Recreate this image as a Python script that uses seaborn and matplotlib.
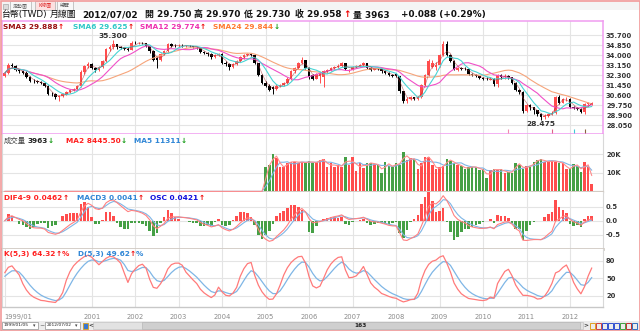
import numpy as np
import pandas as pd
import matplotlib
matplotlib.use("Agg")
import matplotlib.pyplot as plt
from matplotlib.patches import Rectangle
import seaborn as sns

# ---------------- monthly USD/TWD data, 1999/01 .. 2012/07 ----------------
opens = [
    32.20, 32.45, 33.15, 33.05, 32.70, 32.60, 32.50, 32.15, 31.80, 31.75, 31.70, 31.62,
    31.35, 30.70, 30.65, 30.40, 30.50, 30.70, 30.85, 31.00, 31.10, 31.35, 32.55, 33.05,
    33.25, 32.90, 32.70, 33.00, 33.50, 34.50, 34.70, 34.90, 34.65, 34.60, 34.55, 34.45,
    35.05, 35.00, 35.02, 34.98, 34.80, 34.30, 33.75, 33.55, 34.10, 34.30, 34.95, 34.80,
    34.75, 34.80, 34.75, 34.78, 34.75, 34.70, 34.65, 34.28, 34.15, 34.05, 33.80, 34.00,
    34.10, 33.35, 33.20, 33.00, 33.25, 33.50, 33.80, 34.00, 34.10, 34.00, 33.30, 32.30,
    31.65, 31.40, 31.30, 31.10, 31.40, 31.45, 31.60, 32.00, 32.60, 32.90, 33.30, 33.55,
    32.90, 32.30, 32.00, 32.20, 32.10, 32.60, 32.75, 32.90, 33.00, 33.10, 33.30, 32.65,
    32.75, 32.95, 33.05, 33.15, 33.30, 32.90, 32.75, 32.85, 32.80, 32.60, 32.50, 32.30,
    32.40, 32.20, 30.90, 30.05, 30.30, 30.40, 30.30, 30.40, 31.45, 32.30, 33.00, 33.00,
    33.15, 34.00, 34.95, 34.00, 33.50, 32.75, 32.90, 32.85, 32.80, 32.40, 32.30, 32.20,
    32.05, 32.00, 31.90, 32.00, 31.50, 32.30, 32.10, 32.20, 32.10, 31.65, 31.00, 30.85,
    29.25, 29.718, 29.55, 29.30, 29.00, 28.70, 28.85, 29.00, 29.05, 30.45, 29.96, 30.25,
    30.278, 29.55, 29.50, 29.45, 29.136, 29.81, 29.75,
]
highs = [
    32.55, 33.30, 33.35, 33.15, 32.85, 32.75, 32.60, 32.25, 31.95, 31.85, 31.80, 31.70,
    31.45, 30.85, 30.75, 30.60, 30.80, 30.95, 31.10, 31.20, 31.45, 32.70, 33.15, 33.40,
    33.35, 33.00, 33.10, 33.60, 34.60, 34.85, 35.30, 34.95, 34.75, 34.70, 34.65, 35.15,
    35.15, 35.10, 35.10, 35.05, 34.85, 34.40, 33.85, 34.20, 34.40, 35.05, 35.00, 34.90,
    34.90, 34.90, 34.88, 34.85, 34.80, 34.78, 34.70, 34.35, 34.25, 34.15, 34.10, 34.20,
    34.15, 33.45, 33.30, 33.35, 33.60, 33.90, 34.10, 34.20, 34.20, 34.05, 33.35, 32.40,
    31.80, 31.50, 31.35, 31.50, 31.55, 31.70, 32.10, 32.70, 33.00, 33.40, 33.80, 33.60,
    33.00, 32.40, 32.50, 32.55, 32.70, 32.85, 33.00, 33.10, 33.20, 33.40, 33.35, 32.85,
    33.10, 33.15, 33.25, 33.40, 33.35, 33.00, 32.90, 32.95, 32.85, 32.70, 32.55, 32.40,
    32.45, 32.25, 30.95, 30.45, 30.55, 30.45, 30.55, 31.55, 32.40, 33.65, 33.55, 33.40,
    34.10, 35.15, 35.22, 34.10, 33.60, 33.00, 33.00, 32.95, 32.85, 32.50, 32.40, 32.25,
    32.15, 32.10, 32.10, 32.05, 32.40, 32.40, 32.35, 32.30, 32.15, 31.70, 31.10, 30.90,
    29.85, 29.80, 29.60, 29.35, 29.05, 28.95, 29.10, 29.20, 30.55, 30.60, 30.35, 30.40,
    30.35, 29.65, 29.60, 29.50, 29.90, 30.00, 29.97,
]
lows = [
    32.10, 32.40, 32.90, 32.60, 32.50, 32.40, 32.05, 31.70, 31.65, 31.60, 31.55, 31.25,
    30.60, 30.55, 30.30, 30.05, 30.40, 30.60, 30.75, 30.90, 31.00, 31.30, 32.40, 32.90,
    32.80, 32.55, 32.60, 32.90, 33.40, 34.30, 34.55, 34.50, 34.50, 34.45, 34.35, 34.40,
    34.90, 34.90, 34.90, 34.70, 34.20, 33.50, 32.90, 33.50, 34.00, 34.20, 34.70, 34.65,
    34.65, 34.65, 34.68, 34.65, 34.60, 34.55, 34.20, 34.05, 33.95, 33.70, 33.75, 33.90,
    33.25, 33.10, 32.75, 32.90, 33.15, 33.40, 33.70, 33.90, 33.90, 33.20, 32.20, 31.55,
    31.30, 30.95, 30.70, 31.00, 31.30, 31.35, 31.50, 31.90, 32.50, 32.80, 33.20, 32.80,
    32.00, 31.90, 31.95, 31.60, 31.30, 32.50, 32.65, 32.80, 32.90, 33.00, 32.70, 32.55,
    32.70, 32.90, 32.95, 33.05, 32.80, 32.65, 32.70, 32.70, 32.50, 32.40, 32.20, 32.15,
    32.10, 30.80, 29.95, 29.95, 30.20, 30.20, 30.20, 30.35, 31.35, 32.20, 32.90, 32.75,
    33.00, 33.90, 33.90, 33.40, 32.70, 32.65, 32.75, 32.70, 32.30, 32.20, 32.10, 31.95,
    31.90, 31.85, 31.85, 31.40, 31.30, 32.00, 32.00, 32.00, 31.55, 30.90, 30.70, 29.10,
    29.15, 29.35, 29.00, 28.85, 28.475, 28.60, 28.75, 28.90, 29.00, 29.85, 29.90, 30.10,
    29.50, 29.40, 29.35, 29.05, 29.00, 29.70, 29.73,
]
closes = [
    32.45, 33.15, 33.05, 32.70, 32.60, 32.50, 32.15, 31.80, 31.75, 31.70, 31.62, 31.35,
    30.70, 30.65, 30.40, 30.50, 30.70, 30.85, 31.00, 31.10, 31.35, 32.55, 33.05, 33.25,
    32.90, 32.70, 33.00, 33.50, 34.50, 34.70, 34.90, 34.65, 34.60, 34.55, 34.45, 35.05,
    35.00, 35.02, 34.98, 34.80, 34.30, 33.60, 33.55, 34.10, 34.30, 34.95, 34.80, 34.75,
    34.80, 34.75, 34.78, 34.75, 34.70, 34.65, 34.28, 34.15, 34.05, 33.80, 34.00, 34.10,
    33.35, 33.20, 33.00, 33.25, 33.50, 33.80, 34.00, 34.10, 34.00, 33.30, 32.30, 31.65,
    31.40, 31.05, 31.10, 31.40, 31.45, 31.60, 32.00, 32.60, 32.90, 33.30, 33.55, 32.90,
    32.10, 32.00, 32.40, 32.45, 32.60, 32.75, 32.90, 33.00, 33.10, 33.30, 32.80, 32.75,
    33.00, 33.05, 33.15, 33.30, 32.90, 32.75, 32.80, 32.80, 32.60, 32.50, 32.30, 32.25,
    32.20, 30.90, 30.05, 30.30, 30.40, 30.30, 30.40, 31.45, 32.30, 33.45, 33.30, 33.15,
    34.00, 34.95, 34.00, 33.50, 32.80, 32.90, 32.85, 32.80, 32.40, 32.30, 32.20, 32.05,
    32.00, 31.95, 32.00, 31.50, 32.30, 32.10, 32.20, 32.10, 31.65, 31.00, 30.85, 29.25,
    29.718, 29.55, 29.30, 29.00, 28.70, 28.85, 29.00, 29.05, 30.45, 29.96, 30.25, 30.278,
    29.55, 29.50, 29.45, 29.136, 29.81, 29.896, 29.958,
]
# volume is reported from 2005/01 onwards (month index 72)
volume_start = 72
volumes = [
    13200, 14100, 20000, 17700, 12900, 13200, 15400, 15900, 15900, 15400, 15900, 15000,
    16400, 15000, 15900, 16800, 17100, 13200, 15000, 13200, 14100, 13200, 18200, 14100,
    18200, 11100, 15400, 12300, 15400, 15000, 14700, 14100, 10000, 15900, 13600, 13200,
    15400, 14100, 21200, 16800, 17700, 17100, 11800, 15400, 18600, 18200, 14100, 11800,
    12900, 13600, 17100, 16400, 15000, 14100, 13600, 11800, 13200, 12900, 13200, 11500,
    11800, 7000, 11500, 11800, 11500, 11800, 10000, 10600, 10000, 15400, 14100, 11800,
    13600, 13200, 15900, 16800, 17100, 15900, 15900, 16400, 15900, 15400, 15000, 11800,
    12300, 14700, 13600, 10600, 15464, 12928, 3963,
]
price_ticks = [35.70, 34.85, 34.00, 33.15, 32.30, 31.45, 30.60, 29.75, 28.90, 28.05]
volume_ticks = [10000, 20000]
volume_tick_labels = ["10K", "20K"]
macd_ticks = [0.5, 0.0, -0.5]
kd_ticks = [80, 50, 20]
year_ticks = [0, 24, 36, 48, 60, 72, 84, 96, 108, 120, 132, 144, 156]
year_labels = ["1999/01", "2001", "2002", "2003", "2004", "2005", "2006",
               "2007", "2008", "2009", "2010", "2011", "2012"]
event_months = [139, 151, 157, 160]
event_colors = ["#f08ab0", "#e0608a", "#40c8d8", "#8a6040"]

# ---------------- derived series ----------------
o = np.array(opens); h = np.array(highs); l = np.array(lows); c = np.array(closes)
n = len(c)
idx = np.arange(n)
vol = np.concatenate([np.zeros(volume_start), np.array(volumes, dtype=float)])
close_s = pd.Series(c)
sma = {w: close_s.rolling(w, min_periods=1).mean() for w in (3, 6, 12, 24)}
vol_s = pd.Series(vol)
vma2 = vol_s.rolling(2, min_periods=1).mean()
vma5 = vol_s.rolling(5, min_periods=1).mean()
dif = close_s.ewm(span=4, adjust=False).mean() - close_s.ewm(span=9, adjust=False).mean()
dea = dif.ewm(span=3, adjust=False).mean()
osc = dif - dea
low5 = pd.Series(l).rolling(5, min_periods=1).min()
high5 = pd.Series(h).rolling(5, min_periods=1).max()
rsv = ((close_s - low5) / (high5 - low5).replace(0, np.nan) * 100).fillna(50)
k_line, d_line = [], []
kv, dv = 50.0, 50.0
for r in rsv:
    kv = kv * 2 / 3 + r / 3
    dv = dv * 2 / 3 + kv / 3
    k_line.append(kv); d_line.append(dv)
k_line = np.array(k_line); d_line = np.array(d_line)

# ---------------- style ----------------
sns.set_theme(style="white")
plt.rcParams["font.family"] = ["DejaVu Sans", "Noto Sans CJK TC"]
plt.rcParams["axes.unicode_minus"] = False

RED = "#ff4d4d"
GREEN = "#45a045"
GRID = "#e4e4e4"
PINK = "#f09cf0"
W, H = 640, 331

fig = plt.figure(figsize=(6.4, 3.31), dpi=100)
fig.patch.set_facecolor("white")


def px_rect(x0, y0, x1, y1):
    return [x0 / W, 1 - y1 / H, (x1 - x0) / W, (y1 - y0) / H]


ax_p = fig.add_axes(px_rect(2, 21, 603, 134))
ax_v = fig.add_axes(px_rect(2, 134, 603, 191.5))
ax_m = fig.add_axes(px_rect(2, 191.5, 603, 248.5))
ax_k = fig.add_axes(px_rect(2, 248.5, 603, 307))
axes = [ax_p, ax_v, ax_m, ax_k]

for ax in axes:
    ax.set_xlim(-0.745, 165.1)
    ax.set_facecolor("white")
    ax.set_xticks(year_ticks[1:])
    ax.tick_params(axis="x", length=0, labelbottom=False)
    ax.yaxis.tick_right()
    ax.tick_params(axis="y", length=0, pad=2.2, labelsize=4.9, labelcolor="#333333")
    ax.grid(True, color=GRID, lw=0.8)
    ax.set_axisbelow(True)
    for s in ax.spines.values():
        s.set_color("#d8d8d8"); s.set_linewidth(0.8)

# ---- price panel ----
ax_p.set_ylim(27.285, 36.89)
ax_p.set_yticks(price_ticks)
ax_p.set_yticklabels([f"{t:.3f}" for t in price_ticks])
for s in ax_p.spines.values():
    s.set_color(PINK); s.set_linewidth(1.1)

up = c >= o
cand_col = np.where(up, RED, "#000000")
ax_p.vlines(idx, l, h, colors=cand_col, lw=0.7, zorder=3)
body_lo = np.minimum(o, c)
body_h = np.maximum(np.abs(c - o), 0.03)
ax_p.bar(idx, body_h, bottom=body_lo, width=0.7, color=cand_col, lw=0, zorder=3)

sma_colors = {3: "#a83030", 6: "#48d4d4", 12: "#f050c8", 24: "#f6a47a"}
for w in (24, 12, 6, 3):
    sns.lineplot(x=idx, y=sma[w].values, ax=ax_p, color=sma_colors[w],
                 lw=0.8 if w != 3 else 0.5, alpha=1.0 if w != 3 else 0.6,
                 legend=False, zorder=4)

i_hi = int(np.argmax(h)); i_lo = int(np.argmin(l))
ax_p.annotate(f"{h[i_hi]:.3f}", xy=(i_hi, h[i_hi]), xytext=(0, 0.5),
              textcoords="offset points", ha="center", va="bottom",
              fontsize=5.4, fontweight="bold", color="#333333")
ax_p.annotate(f"{l[i_lo]:.3f}", xy=(i_lo, l[i_lo]), xytext=(0, -0.8),
              textcoords="offset points", ha="center", va="top",
              fontsize=5.4, fontweight="bold", color="#333333")
for m, col in zip(event_months, event_colors):
    ax_p.vlines(m, 27.36, 27.72, colors=col, lw=0.8, zorder=5)
ax_p.set_ylabel("")

# ---- volume panel ----
ax_v.set_ylim(-60, 30700)
ax_v.set_yticks(volume_ticks)
ax_v.set_yticklabels(volume_tick_labels)
vol_col = np.where(up, RED, GREEN)
mask = vol > 0
ax_v.bar(idx[mask], vol[mask], width=0.7, color=vol_col[mask], lw=0, zorder=3)
sns.lineplot(x=idx, y=vma5.values, ax=ax_v, color="#7fb6e6", lw=0.8, legend=False, zorder=4)
sns.lineplot(x=idx, y=vma2.values, ax=ax_v, color="#ff8c8c", lw=0.8, legend=False, zorder=4)
ax_v.spines["top"].set_visible(False)
ax_v.spines["bottom"].set_color("#d2cbc4"); ax_v.spines["bottom"].set_linewidth(1.6)

# ---- MACD panel: OSC histogram on its own (finer) scale, DIF/MACD lines on the labelled scale ----
macd_lim = (-0.993, 1.043)
osc_scale = 3.3
ax_m.set_ylim(macd_lim[0] / osc_scale, macd_lim[1] / osc_scale)
ax_m.set_yticks([t / osc_scale for t in macd_ticks])
ax_m.tick_params(axis="y", labelright=False, labelleft=False)
osc_col = np.where(osc.values >= 0, RED, GREEN)
ax_m.bar(idx, osc.values, width=0.7, color=osc_col, lw=0, zorder=3)
ax_m.spines["top"].set_visible(False)
ax_m.spines["bottom"].set_color("#d2cbc4"); ax_m.spines["bottom"].set_linewidth(2.0)

ax_ml = ax_m.twinx()
ax_ml.set_xlim(ax_m.get_xlim())
ax_ml.set_ylim(*macd_lim)
ax_ml.set_yticks(macd_ticks)
ax_ml.set_yticklabels([f"{t:.1f}" for t in macd_ticks])
ax_ml.tick_params(axis="y", length=0, pad=2.2, labelsize=4.9, labelcolor="#333333")
ax_ml.grid(False)
for s in ax_ml.spines.values():
    s.set_visible(False)
sns.lineplot(x=idx, y=dea.values, ax=ax_ml, color="#7fb6e6", lw=0.8, legend=False, zorder=4)
sns.lineplot(x=idx, y=dif.values, ax=ax_ml, color="#ff8080", lw=0.8, legend=False, zorder=4)
ax_ml.set_ylabel("")

# ---- KD panel ----
ax_k.set_ylim(0.6, 100.9)
ax_k.set_yticks(kd_ticks)
ax_k.set_yticklabels([str(t) for t in kd_ticks])
sns.lineplot(x=idx, y=d_line, ax=ax_k, color="#7fb6e6", lw=0.9, legend=False, zorder=4)
sns.lineplot(x=idx, y=k_line, ax=ax_k, color="#ff7a7a", lw=0.9, legend=False, zorder=4)
ax_k.spines["top"].set_visible(False)
ax_k.spines["bottom"].set_color("#c8c8c8"); ax_k.spines["bottom"].set_linewidth(1.0)
ax_k.set_xticks(year_ticks)
ax_k.set_xticklabels(year_labels)
ax_k.tick_params(axis="x", length=2.5, width=0.6, color="#b0b0b0", labelbottom=True,
                 labelsize=4.9, labelcolor="#8a8a8a", pad=2.5)
ax_k.get_xticklabels()[0].set_ha("left")

for ax in axes + [ax_ml]:
    for lbl in ax.get_yticklabels():
        lbl.set_fontweight("bold")
    ax.set_ylabel(""); ax.set_xlabel("")

# ---------------- text rows ----------------
renderer = fig.canvas.get_renderer()
UPA, DNA = "\u2191", "\u2193"


def text_run(x, y, pieces, size=5.3, weight="bold"):
    for s, col in pieces:
        t = fig.text(x / W, 1 - y / H, s, color=col, fontsize=size,
                     fontweight=weight, ha="left", va="center")
        x = t.get_window_extent(renderer).x1
    return x


def put(x, y, s, col="#111111", size=5.3, weight="bold", ha="left"):
    return fig.text(x / W, 1 - y / H, s, color=col, fontsize=size,
                    fontweight=weight, ha=ha, va="center")


# header
put(1, 14.5, "台幣(TWD)", "#111111", 6.4, "normal")
put(50, 14.5, "月線圖", "#111111", 6.4, "normal")
put(82, 14.5, "2012/07/02", "#111111", 6.4)
put(145, 14.5, f"開 {o[-1]:.3f}", "#111111", 6.4)
put(194, 14.5, f"高 {h[-1]:.3f}", "#111111", 6.4)
put(244, 14.5, f"低 {l[-1]:.3f}", "#111111", 6.4)
put(295, 14.5, f"收 {c[-1]:.3f}", "#111111", 6.4)
put(343, 14.5, UPA, "#ee0000", 6.4)
put(353, 14.5, f"量 {volumes[-1]}", "#111111", 6.4)
put(401, 14.5, "+0.088 (+0.29%)", "#111111", 6.4)

# indicator legends
text_run(3, 26.7, [("SMA3 29.888", "#9a1010"), (UPA, "#ee0000")])
text_run(73, 26.7, [("SMA6 29.625", "#30c8c8"), (UPA, "#ee0000")])
text_run(140, 26.7, [("SMA12 29.774", "#ee30b0"), (UPA, "#ee0000")])
text_run(213, 26.7, [("SMA24 29.844", "#ff7a30"), (DNA, "#119911")])

x0 = text_run(4, 140.5, [("成交量", "#444444")], weight="normal")
text_run(x0 + 1, 140.5, [("3963", "#222222"), (DNA, "#119911")])
text_run(66, 140.5, [("MA2 8445.50", "#ff2020"), (DNA, "#119911")])
text_run(134, 140.5, [("MA5 11311", "#2f86d6"), (DNA, "#119911")])

text_run(4, 197.8, [("DIF4-9 0.0462", "#ff2020"), (UPA, "#ee0000")])
text_run(77, 197.8, [("MACD3 0.0041", "#2f86d6"), (UPA, "#ee0000")])
text_run(150, 197.8, [("OSC 0.0421", "#1010dd"), (UPA, "#ee0000")])

text_run(4, 254.3, [("K(5,3) 64.32", "#ff2020"), (UPA, "#ee0000"), ("%", "#ff2020")])
text_run(78, 254.3, [("D(5,3) 49.62", "#2f86d6"), (UPA, "#ee0000"), ("%", "#2f86d6")])

# ---------------- window chrome: tab strip and bottom toolbar ----------------
fig.add_artist(Rectangle((0, 1 - 10 / H), 1, 10 / H, transform=fig.transFigure,
                         facecolor="#f4f4f4", edgecolor="none", zorder=0))
fig.add_artist(Rectangle((2.5 / W, 1 - 8.5 / H), 5 / W, 5 / H, transform=fig.transFigure,
                         facecolor="#dcdcdc", edgecolor="#a8a8a8", lw=0.5))
tabs = [("走勢圖", 10, 31, "#666666", "#f8f8f8"), ("K線圖", 35, 55, "#e03030", "#fde0e0"),
        ("總覽", 57, 73, "#666666", "#f8f8f8")]
for label, tx0, tx1, tcol, bg in tabs:
    fig.add_artist(Rectangle((tx0 / W, 1 - 9.5 / H), (tx1 - tx0) / W, 8.5 / H,
                             transform=fig.transFigure, facecolor=bg,
                             edgecolor="#b0b0b0", lw=0.5))
    put((tx0 + tx1) / 2, 5.3, label, tcol, 3.6, "normal", ha="center")

fig.add_artist(Rectangle((0, 0), 1, 10.5 / H, transform=fig.transFigure,
                         facecolor="#ececec", edgecolor="none", zorder=0))
for bx0, bx1, label in [(2, 38, "1999/01/05"), (45, 80, "2012/07/02")]:
    fig.add_artist(Rectangle((bx0 / W, 1.8 / H), (bx1 - bx0) / W, 7.5 / H,
                             transform=fig.transFigure, facecolor="white",
                             edgecolor="#909090", lw=0.5))
    put(bx0 + 1.5, 325.5, label, "#222222", 3.2, "normal")
    put(bx1 - 4, 325.5, "\u25be", "#444444", 3.5, "normal", ha="center")
put(41.5, 325.5, "~", "#333333", 4.5, "normal", ha="center")
fig.add_artist(Rectangle((83 / W, 2.5 / H), 5 / W, 6 / H, transform=fig.transFigure,
                         facecolor="#3a78d0", edgecolor="#d8a020", lw=0.6))
fig.add_artist(Rectangle((93 / W, 2 / H), (583 - 93) / W, 7.5 / H, transform=fig.transFigure,
                         facecolor="#e2e2e2", edgecolor="#c4c4c4", lw=0.5))
fig.add_artist(Rectangle((142 / W, 2.3 / H), (580 - 142) / W, 7 / H, transform=fig.transFigure,
                         facecolor="#cfcfcf", edgecolor="#b8b8b8", lw=0.5))
put(361, 325.5, f"{n}", "#222222", 4.2, "bold", ha="center")
put(90.5, 325.5, "<", "#333333", 4.2, "bold", ha="center")
put(585.5, 325.5, ">", "#333333", 4.2, "bold", ha="center")
icon_cols = ["#e0a020", "#d04040", "#3050d0", "#3050d0", "#3050d0", "#40a040", "#c03030", "#3070c0"]
for j, col in enumerate(icon_cols):
    fig.add_artist(Rectangle(((590 + j * 6) / W, 2.5 / H), 4.5 / W, 6 / H,
                             transform=fig.transFigure, facecolor="none",
                             edgecolor=col, lw=0.7))

# outer frame
fig.add_artist(Rectangle((0.5 / W, 0.5 / H), 639 / W, 330 / H, transform=fig.transFigure,
                         facecolor="none", edgecolor="#f29a9a", lw=1.2))

fig.savefig("out.png", dpi=100, facecolor="white")
